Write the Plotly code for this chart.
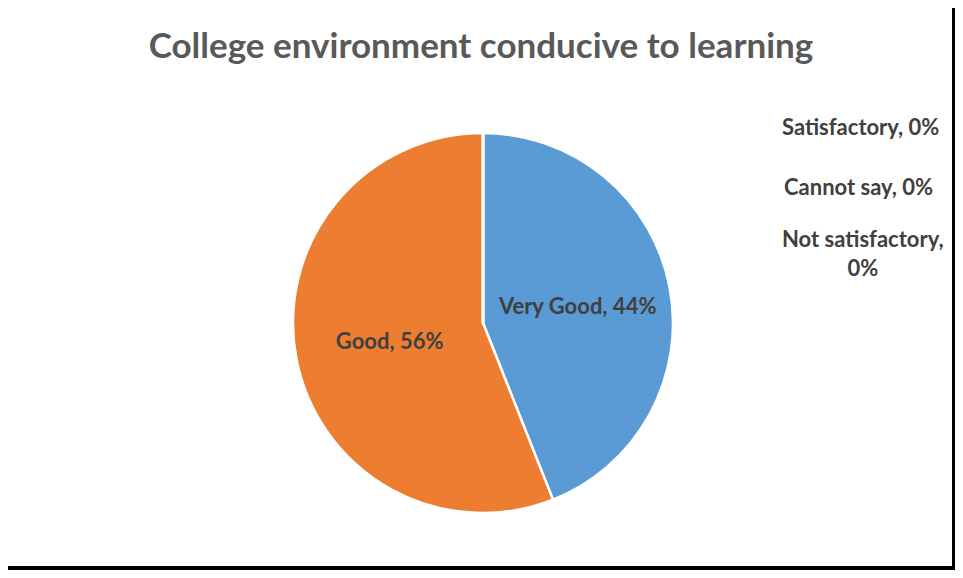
import plotly.graph_objects as go

categories = ["Very Good", "Good", "Satisfactory", "Cannot say", "Not satisfactory"]
values = [44, 56, 0, 0, 0]
colors = ["#5B9BD5", "#ED7D31", "#A5A5A5", "#FFC000", "#4472C4"]
title_text = "College environment conducive to learning"

# the page body adds an 8px margin; lay out in screen coordinates and shift
OFF = 8
W, H = 963 - 2 * OFF, 578 - 2 * OFF


def px(x):
    return (x - OFF) / W


def py(y):
    return 1 - (y - OFF) / H


cx, cy, r = 483, 323, 190

fig = go.Figure(go.Pie(
    labels=categories,
    values=values,
    sort=False,
    direction="clockwise",
    rotation=0,
    marker=dict(colors=colors, line=dict(color="white", width=2.5)),
    texttemplate="%{label}, %{percent:.0%}",
    textposition="inside",
    insidetextorientation="horizontal",
    textfont=dict(family="Lato", size=22, color="#404040", weight="bold"),
    showlegend=False,
    hoverinfo="label+percent",
    domain=dict(x=[px(cx - r), px(cx + r)], y=[py(cy + r), py(cy - r)]),
))

# labels for the zero-value slices (Plotly does not draw them)
zero_pos = {"Satisfactory": (860, 126), "Cannot say": (858, 186), "Not satisfactory": (863, 253)}
total = sum(values)
annotations = []
for cat, v in zip(categories, values):
    if v == 0:
        x, y = zero_pos[cat]
        pct = round(100 * v / total)
        txt = f"{cat},<br>{pct}%" if cat == "Not satisfactory" else f"{cat}, {pct}%"
        annotations.append(dict(
            x=px(x), y=py(y), xref="paper", yref="paper", text=txt, showarrow=False,
            font=dict(family="Lato", size=22, color="#404040", weight="bold"),
            xanchor="center", yanchor="middle", align="center",
        ))

fig.update_layout(
    width=W, height=H,
    margin=dict(l=0, r=0, t=0, b=0),
    paper_bgcolor="white",
    plot_bgcolor="white",
    title=dict(text=title_text, x=px(481), xanchor="center", y=py(46), yanchor="middle",
               font=dict(family="Lato", size=35, color="#595959", weight="bold")),
    annotations=annotations,
    shapes=[
        dict(type="rect", xref="paper", yref="paper", x0=1 - 3 / W, x1=1, y0=0, y1=1,
             fillcolor="black", line=dict(width=0), layer="above"),
        dict(type="rect", xref="paper", yref="paper", x0=0, x1=1, y0=0, y1=4 / H,
             fillcolor="black", line=dict(width=0), layer="above"),
    ],
)

fig.write_html("out.html")
